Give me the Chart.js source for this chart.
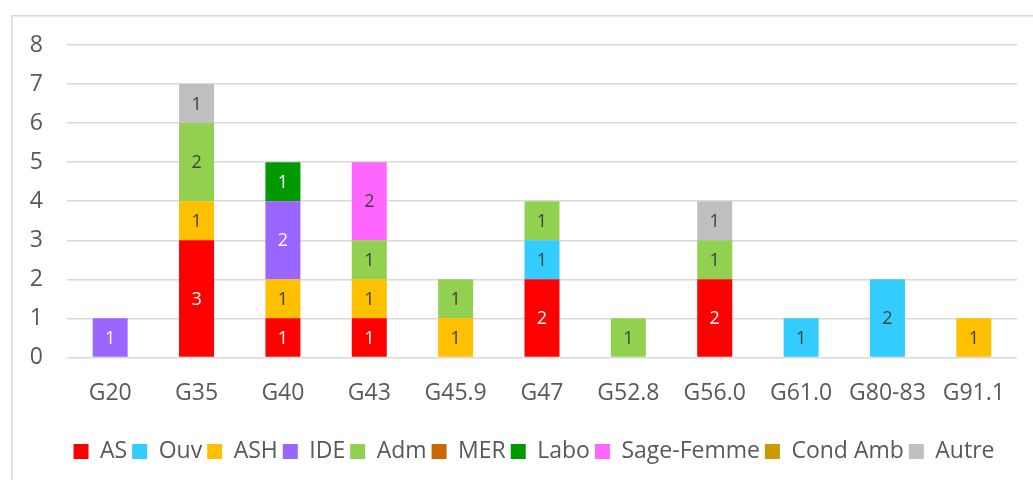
<!DOCTYPE html>
<html>
<head>
<meta charset="utf-8">
<script src="https://cdn.jsdelivr.net/npm/chart.js@4/dist/chart.umd.min.js"></script>
<style>
    html, body { margin:0; padding:0; background:#fff; }
    #divGrafico { width:1033px; height:480px; }
</style>
</head>
<body>
<div id="divGrafico"><canvas id="grafico_"></canvas></div>
<script>

const categorias = ["G20","G35","G40","G43","G45.9","G47","G52.8","G56.0","G61.0","G80-83","G91.1"];
const ticksY = [0,1,2,3,4,5,6,7,8];

const AS        = [0,3,1,1,0,2,0,2,0,0,0];
const Ouv       = [0,0,0,0,0,1,0,0,1,2,0];
const ASH       = [0,1,1,1,1,0,0,0,0,0,1];
const IDE       = [1,0,2,0,0,0,0,0,0,0,0];
const Adm       = [0,2,0,1,1,1,1,1,0,0,0];
const MER       = [0,0,0,0,0,0,0,0,0,0,0];
const Labo      = [0,0,1,0,0,0,0,0,0,0,0];
const SageFemme = [0,0,0,2,0,0,0,0,0,0,0];
const CondAmb   = [0,0,0,0,0,0,0,0,0,0,0];
const Autre     = [0,1,0,0,0,0,0,1,0,0,0];

// [label, datos, color de fondo, color del texto]
let series = [
    ["AS", AS, "#FF0000", "#FFFFFF"],
    ["Ouv", Ouv, "#33CCFF", "#404040"],
    ["ASH", ASH, "#FFC000", "#404040"],
    ["IDE", IDE, "#9966FF", "#FFFFFF"],
    ["Adm", Adm, "#92D050", "#404040"],
    ["MER", MER, "#CC6600", "#FFFFFF"],
    ["Labo", Labo, "#009900", "#FFFFFF"],
    ["Sage-Femme", SageFemme, "#FF66FF", "#404040"],
    ["Cond Amb", CondAmb, "#CC9900", "#404040"],
    ["Autre", Autre, "#BFBFBF", "#404040"]
];

const fuente = "'Open Sans', 'Noto Sans', sans-serif";

let datasets = [];
series.forEach(function(val, key){
    datasets.push({
        label: val[0],
        data: val[1],
        backgroundColor: val[2],
        colorTexto: val[3],
        borderWidth: 0,
        barPercentage: 0.405,
        categoryPercentage: 1
    });
});

// marco gris alrededor del grafico + leyenda un poco a la derecha
const marco = {
    id: "marco",
    beforeDraw(chart){
        const ctx = chart.ctx;
        ctx.save();
        ctx.strokeStyle = "#D9D9D9";
        ctx.lineWidth = 1.5;
        ctx.strokeRect(11.75, 15.75, 1100, 600);
        ctx.restore();
        chart.legend.left += 11;
        chart.legend.right += 11;
    }
};

// etiquetas dentro de cada segmento
const etiquetas = {
    id: "etiquetas",
    afterDatasetsDraw(chart){
        const ctx = chart.ctx;
        ctx.save();
        ctx.font = "18px " + fuente;
        ctx.textAlign = "center";
        ctx.textBaseline = "middle";
        chart.data.datasets.forEach(function(ds, i){
            const meta = chart.getDatasetMeta(i);
            meta.data.forEach(function(bar, j){
                const v = ds.data[j];
                if(!v) return;
                ctx.fillStyle = ds.colorTexto;
                ctx.fillText(String(v), bar.x, (bar.y + bar.base) / 2 + 1);
            });
        });
        ctx.restore();
    }
};

new Chart(document.getElementById("grafico_"), {
    type: "bar",
    data: { labels: categorias, datasets: datasets },
    plugins: [marco, etiquetas],
    options: {
        responsive: true,
        maintainAspectRatio: false,
        animation: false,
        layout: { padding: { left: 29, right: 16, top: 45, bottom: 7 } },
        scales: {
            x: {
                stacked: true,
                grid: { display: false },
                border: { display: false },
                ticks: { color: "#595959", font: { family: fuente, size: 23 }, padding: 14, maxRotation: 0 },
                afterFit: function(axis){ axis.height += 14; }
            },
            y: {
                stacked: true,
                min: 0,
                max: 8,
                afterBuildTicks: function(axis){ axis.ticks = ticksY.map(v => ({ value: v })); },
                afterFit: function(axis){ axis.width = 38; },
                grid: { color: "#D9D9D9", lineWidth: 1.5, drawTicks: false },
                border: { display: false },
                ticks: { color: "#595959", font: { family: fuente, size: 23 }, padding: 24 }
            }
        },
        plugins: {
            legend: {
                position: "bottom",
                labels: {
                    color: "#595959",
                    font: { family: fuente, size: 23 },
                    boxWidth: 15,
                    boxHeight: 15,
                    padding: 5
                }
            },
            tooltip: { enabled: false }
        }
    }
});
</script>
</body>
</html>
